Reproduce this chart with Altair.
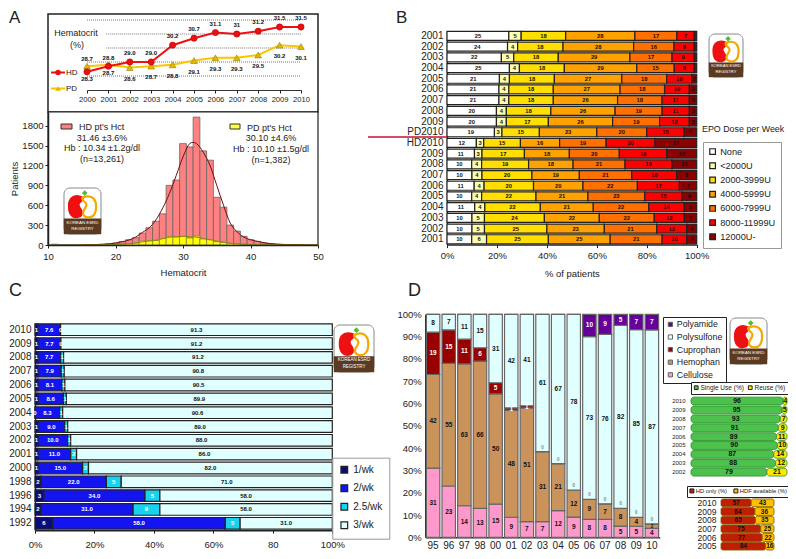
import altair as alt
import pandas as pd

FONT = "Liberation Sans"
INK = "#222222"
W, H = 780, 543

# ---------- Panel A: hematocrit trend ----------
years_a = list(range(2000, 2011))
hd_hct = [28.3, 28.7, 29.0, 29.0, 30.2, 30.7, 31.1, 31.0, 31.2, 31.5, 31.5]
pd_hct = [28.7, 28.8, 28.6, 28.7, 28.8, 29.1, 29.3, 29.3, 29.5, 30.2, 30.1]
hd_lab = ["28.3", "28.7", "29.0", "29.0", "30.2", "30.7", "31.1", "31", "31.2", "31.5", "31.5"]
pd_lab = ["28.7", "28.8", "28.6", "28.7", "28.8", "29.1", "29.3", "29.3", "29.5", "30.2", "30.1"]
grid_y = [32, 31, 30, 29, 28]
grid_from = [2000, 2000.9, 2000.9, 2000, 2000]

# ---------- Panel A: histogram ----------
hist_bins = list(range(11, 48))
hd_hist = [12, 4, 3, 3, 6, 6, 8, 12, 20, 30, 50, 80, 110, 180, 260, 360, 470, 900, 980, 1530, 1480, 1930,
           1420, 1280, 720, 570, 300, 210, 130, 80, 55, 30, 20, 12, 8, 5, 3]
pd_hist = [0, 0, 0, 0, 2, 2, 3, 6, 8, 10, 15, 20, 30, 60, 65, 70, 100, 130, 120, 130, 105, 135,
           90, 80, 50, 40, 25, 20, 12, 5, 4, 3, 2, 1, 1, 0, 0]
curve_x = [15, 17, 19, 20, 21, 22, 23, 24, 25, 26, 27, 28, 29, 30, 31, 31.5, 32, 33, 34, 35, 36, 37, 38, 39, 40,
           41, 42, 43, 44, 45, 47, 50]
curve_y = [3, 6, 15, 30, 50, 75, 120, 190, 260, 380, 560, 780, 1050, 1330, 1530, 1550, 1530, 1400, 1200, 900, 600,
           330, 200, 120, 80, 55, 35, 20, 12, 8, 3, 0]
curve_pd = [1, 2, 5, 9, 14, 20, 30, 48, 62, 72, 95, 118, 125, 128, 125, 122, 118, 98, 80, 58, 40, 27, 18, 11, 6,
            4, 3, 2, 1, 1, 0, 0]

# ---------- Panel B ----------
b_rows = ["2001", "2002", "2003", "2004", "2005", "2006", "2007", "2008", "2009", "PD2010", "HD2010",
          "2009 ", "2008 ", "2007 ", "2006 ", "2005 ", "2004 ", "2003 ", "2002 ", "2001 "]
b_none = [25, 24, 22, 25, 21, 21, 21, 20, 20, 19, 12, 11, 10, 10, 11, 10, 11, 10, 10, 10]
b_lt2k = [5, 4, 5, 4, 4, 4, 4, 4, 4, 3, 3, 3, 4, 4, 4, 4, 4, 5, 5, 6]
b_2k = [18, 18, 18, 18, 18, 18, 18, 18, 17, 15, 15, 17, 19, 20, 20, 22, 22, 24, 25, 25]
b_4k = [28, 28, 29, 29, 27, 27, 26, 26, 26, 23, 16, 18, 18, 19, 20, 21, 21, 22, 23, 25]
b_6k = [17, 16, 17, 15, 18, 18, 18, 19, 19, 20, 19, 20, 21, 21, 22, 23, 22, 22, 21, 21]
b_8k = [7, 8, 9, 8, 10, 10, 11, 11, 12, 15, 20, 19, 19, 18, 17, 15, 14, 12, 12, 10]
b_12k = [1, 1, 1, 1, 2, 3, 3, 3, 3, 5, 17, 12, 10, 8, 7, 6, 5, 5, 4, 4]
b_names = ["None", "<2000U", "2000-3999U", "4000-5999U", "6000-7999U", "8000-11999U", "12000U-"]
b_colors = ["#FFFFFF", "#FFFFB0", "#FFDE00", "#FFA200", "#FF7000", "#FF0000", "#8B0000"]

# ---------- Panel C ----------
c_rows = ["2010", "2009", "2008", "2007", "2006", "2005", "2004", "2003", "2002", "2001", "2000",
          "1998", "1996", "1994", "1992"]
c_1 = [1, 1, 1, 1, 1, 1, 0, 1, 1, 1, 1, 2, 3, 2, 6]
c_2 = [7.6, 7.7, 7.7, 7.9, 8.1, 8.6, 8.3, 9.0, 10.0, 11.0, 15.0, 22.0, 34.0, 31.0, 58.0]
c_25 = [0, 0, 1, 1, 1, 1, 1, 1, 1, 2, 2, 5, 5, 9, 5]
c_3 = [91.3, 91.2, 91.2, 90.8, 90.5, 89.9, 90.6, 89.0, 88.0, 86.0, 82.0, 71.0, 58.0, 58.0, 31.0]
c_names = ["1/wk", "2/wk", "2.5/wk", "3/wk"]
c_colors = ["#0B0B7A", "#1414F0", "#19D2F0", "#E0FFFF"]

# ---------- Panel D ----------
d_cols = ["95", "96", "97", "98", "00", "01", "02", "03", "04", "05", "06", "07", "08", "09", "10"]
d_cell = [31, 23, 14, 13, 15, 9, 7, 7, 12, 9, 8, 8, 5, 5, 4]
d_hemo = [42, 55, 63, 66, 50, 48, 51, 31, 21, 12, 9, 7, 8, 4, 2]
d_cupr = [19, 15, 11, 6, 5, 1, 1, 0, 0, 0, 0, 0, 0, 0, 0]
d_poly = [8, 7, 11, 15, 31, 42, 41, 61, 67, 78, 73, 76, 82, 85, 87]
d_amid = [0, 0, 0, 0, 0, 0, 0, 0, 0, 0, 10, 9, 5, 7, 7]
d_names = ["Polyamide", "Polysulfone", "Cuprophan", "Hemophan", "Cellulose"]
d_colors = ["#660099", "#E0FFFF", "#990000", "#C9935B", "#FF99CC"]

# ---------- Small stacked panels ----------
e_rows = ["2010", "2009", "2008", "2007", "2006", "2005", "2004", "2003", "2002"]
e_single = [96, 95, 93, 91, 89, 90, 87, 88, 79]
e_reuse = [4, 5, 7, 9, 11, 10, 14, 12, 21]
e_names = ["Single Use (%)", "Reuse (%)"]
f_rows = ["2010", "2009", "2008", "2007", "2006", "2005"]
f_hd = [57, 64, 65, 75, 77, 84]
f_hdf = [43, 36, 35, 25, 22, 16]
f_names = ["HD only (%)", "HDF available (%)"]


def long_stack(rows, names, series, fmt=None):
    out = []
    for i, r in enumerate(rows):
        total = sum(s[i] for s in series)
        acc = 0
        for j, n in enumerate(names):
            v = series[j][i]
            lab = (fmt[j] if fmt else "{:d}").format(v)
            out.append(dict(row=r, seg=n, val=v, lab=lab,
                            start=acc / total * 100,
                            end=(acc + v) / total * 100,
                            mid=(acc + v / 2) / total * 100))
            acc += v
    return pd.DataFrame(out)


def axis(orient, offset, **kw):
    base = dict(orient=orient, offset=offset, title=None, grid=False, domainColor=INK, domainWidth=1.5,
                tickColor=INK, tickSize=3, labelColor="#222222", labelFontSize=9.5,
                labelFlush=False, labelOverlap=False, labelBound=False)
    base.update(kw)
    return alt.Axis(**base)


one = pd.DataFrame({"k": [0]})


def label(text, x, y, size=9, align="center", color="#222222", weight="normal", angle=0):
    return alt.Chart(one).mark_text(text=text, fontSize=size, align=align, color=color, fontWeight=weight,
                                    baseline="middle", angle=angle).encode(x=alt.value(x - 8), y=alt.value(y - 8))


def box(x0, y0, x1, y1, fill="white", stroke=INK, sw=1.5, corner=0):
    return alt.Chart(one).mark_rect(fill=fill, stroke=stroke, strokeWidth=sw, cornerRadius=corner).encode(
        x=alt.value(x0 - 8), x2=alt.value(x1 - 8), y=alt.value(y0 - 8), y2=alt.value(y1 - 8))


RED_K = "M0.35,-0.95 C-0.35,-1.1 -0.65,-0.6 -0.62,0 C-0.62,0.7 -0.3,1.05 0.2,0.97 C0.6,0.9 0.65,0.6 0.5,0.3 C0.35,0.1 0.2,-0.1 0.3,-0.3 C0.4,-0.5 0.75,-0.6 0.65,-0.85 Z"
ORA_K = "M-0.35,-0.95 C0.35,-1.1 0.65,-0.6 0.62,0 C0.62,0.7 0.3,1.05 -0.2,0.97 C-0.6,0.9 -0.65,0.6 -0.5,0.3 C-0.35,0.1 -0.2,-0.1 -0.3,-0.3 C-0.4,-0.5 -0.75,-0.6 -0.65,-0.85 Z"


def logo(x0, y0, w, h):
    s = (h * 0.47) ** 2
    def px(fx, fy, **kw):
        return alt.Chart(one).mark_point(**kw).encode(x=alt.value(x0 + fx * w - 8), y=alt.value(y0 + fy * h - 8))
    return [
        box(x0, y0, x0 + w, y0 + h, fill="white", stroke="#888888", sw=1, corner=6),
        box(x0, y0 + 0.67 * h, x0 + w, y0 + h, fill="#5A3A22", stroke="#5A3A22", sw=0.5),
        px(0.315, 0.405, shape=RED_K, size=s, filled=True, fill="#EE1111", stroke="#EE1111", opacity=1),
        px(0.685, 0.41, shape=ORA_K, size=s, filled=False, stroke="#F5A800", strokeWidth=2.2, opacity=1),
        px(0.56, 0.11, shape="diamond", size=h * 0.7, filled=True, fill="#55BB33", opacity=1),
        label("KOREAN ESRD", x0 + w / 2, y0 + 0.755 * h, size=h / 10.5, color="white"),
        label("REGISTRY", x0 + w / 2, y0 + 0.885 * h, size=h / 10.5, color="white"),
    ]


def stacked_h(df, names, colors, rows, xr, yr, pad, leg, x_axis, y_axis, stroke=INK, sw=1.2, corner=0):
    return alt.Chart(df).mark_bar(stroke=stroke, strokeWidth=sw, cornerRadius=corner).encode(
        x=alt.X("start:Q", scale=alt.Scale(domain=[0, 100], range=xr), axis=x_axis),
        x2="end:Q",
        y=alt.Y("row:N", sort=rows, scale=alt.Scale(domain=rows, range=yr, paddingInner=pad, paddingOuter=pad / 2),
                axis=y_axis),
        color=alt.Color("seg:N", scale=alt.Scale(domain=names, range=colors), legend=leg),
    )


def hbar_text(df, rows, xr, yr, pad, size, color="#111111"):
    return alt.Chart(df).mark_text(fontSize=size, fontWeight="bold", color=color, baseline="middle").encode(
        x=alt.X("mid:Q", scale=alt.Scale(domain=[0, 100], range=xr), axis=None),
        y=alt.Y("row:N", sort=rows, scale=alt.Scale(domain=rows, range=yr, paddingInner=pad, paddingOuter=pad / 2),
                axis=None),
        text="lab:N",
    )


# ========== A top ==========
ax = alt.Scale(domain=[2000, 2010], range=[79, 293])
ay = alt.Scale(domain=[27, 32], range=[82, 12])
df_a = pd.DataFrame({"year": years_a, "hd": hd_hct, "pd": pd_hct, "hl": hd_lab, "pl": pd_lab})
df_g = pd.DataFrame({"y": grid_y, "x0": grid_from, "x1": [2010] * 5})
base_a = alt.Chart(df_a)
a_x = alt.X("year:Q", scale=ax, axis=None)


def a_text(field, lab, subset, dy):
    return alt.Chart(df_a.iloc[subset]).mark_text(fontSize=6, fontWeight="bold", color="#111111", dy=dy).encode(
        x=a_x, y=alt.Y(f"{field}:Q", scale=ay, axis=None), text=f"{lab}:N")


panel_a1 = [
    box(48, 14, 318, 112),
    alt.Chart(df_g).mark_rule(color="#555555", strokeWidth=0.8, strokeDash=[1, 1]).encode(
        x=alt.X("x0:Q", scale=ax, axis=None),
        x2="x1:Q", y=alt.Y("y:Q", scale=ay, axis=None)),
    base_a.mark_line(color="#FFC400", strokeWidth=2).encode(x=a_x, y=alt.Y("pd:Q", scale=ay, axis=None)),
    base_a.mark_point(shape="triangle-up", filled=True, fill="#E5B800", stroke="#777700", strokeWidth=0.5,
                      size=45, opacity=1).encode(x=a_x, y=alt.Y("pd:Q", scale=ay, axis=None)),
    base_a.mark_line(color="#F01010", strokeWidth=2).encode(x=a_x, y=alt.Y("hd:Q", scale=ay, axis=None)),
    base_a.mark_point(shape="circle", filled=True, fill="#E81010", stroke="#BB0000", strokeWidth=0.5,
                      size=40, opacity=1).encode(
        x=alt.X("year:Q", scale=ax, axis=axis("bottom", 82 - H, values=years_a, format="d", labelFontSize=7.6,
                                               tickSize=3, domainWidth=1, labelPadding=2, domainColor="#333333",
                                               zindex=1)),
        y=alt.Y("hd:Q", scale=ay, axis=None)),
    a_text("hd", "hl", list(range(0, 2)), 7),
    a_text("hd", "hl", list(range(2, 11)), -9),
    a_text("pd", "pl", list(range(0, 2)), -7),
    a_text("pd", "pl", list(range(2, 11)), 11),
]

a1_extra = [
    label("Hematocrit", 76, 33), label("(%)", 77, 45),
    alt.Chart(one).mark_rule(color="#F01010", strokeWidth=2).encode(
        x=alt.value(43), x2=alt.value(57), y=alt.value(64.5)),
    alt.Chart(one).mark_point(shape="circle", filled=True, fill="#E81010", size=30, opacity=1).encode(
        x=alt.value(50), y=alt.value(64.5)),
    label("HD", 66, 73, size=8, align="left"),
    alt.Chart(one).mark_rule(color="#FFC400", strokeWidth=2).encode(
        x=alt.value(43), x2=alt.value(57), y=alt.value(80.5)),
    alt.Chart(one).mark_point(shape="triangle-up", filled=True, fill="#E5B800", size=30, opacity=1).encode(
        x=alt.value(50), y=alt.value(80.5)),
    label("PD", 66, 89, size=8, align="left"),
]

# ========== A histogram ==========
hx = alt.Scale(domain=[10, 50], range=[40, 310])
hy = alt.Scale(domain=[0, 2007], range=[237, 104])
df_h = pd.DataFrame({"b0": [b - 0.5 for b in hist_bins], "b1": [b + 0.5 for b in hist_bins],
                     "hd": hd_hist, "pd": pd_hist, "z": [0] * len(hist_bins)})
df_c = pd.DataFrame({"x": curve_x, "y": curve_y, "p": curve_pd})
panel_a2 = [
    box(48, 112, 318, 245, fill="white", sw=1.2),
    alt.Chart(df_h).mark_bar(fill="#FF8080", stroke="#666666", strokeWidth=0.8).encode(
        x=alt.X("b0:Q", scale=hx, axis=axis("bottom", 237 - H, values=[10, 20, 30, 40, 50], labelPadding=3,
                                             title="Hematocrit", titleFontSize=9.5, titleFontWeight="normal",
                                             titlePadding=7, titleColor="#222222", zindex=1)),
        x2="b1:Q",
        y=alt.Y("hd:Q", scale=hy, axis=axis("left", -40, values=[0, 300, 600, 900, 1200, 1500, 1800], format="d",
                                            labelPadding=2, title="Patients", titleFontSize=9.5,
                                            titleFontWeight="normal", titlePadding=2, titleColor="#222222",
                                            zindex=1)),
        y2="z:Q"),
    alt.Chart(df_h).mark_bar(fill="#FFFF00", stroke="#777744", strokeWidth=0.6).encode(
        x=alt.X("b0:Q", scale=hx, axis=None), x2="b1:Q", y=alt.Y("pd:Q", scale=hy, axis=None), y2="z:Q"),
    alt.Chart(df_c).mark_line(color="#7A0A0A", strokeWidth=1, interpolate="monotone").encode(
        x=alt.X("x:Q", scale=hx, axis=None), y=alt.Y("y:Q", scale=hy, axis=None)),
    alt.Chart(df_c).mark_line(color="#8A8A10", strokeWidth=1, interpolate="monotone").encode(
        x=alt.X("x:Q", scale=hx, axis=None), y=alt.Y("p:Q", scale=hy, axis=None)),
]
a2_extra = [
    box(61, 124, 72, 129, fill="#FF8080", stroke="#333333", sw=1),
    label("HD pt's Hct", 79, 126.5, align="left"),
    label("31.46 \u00b13.6%", 102, 137.5),
    label("Hb : 10.34 \u00b11.2g/dl", 102, 148),
    label("(n=13,261)", 102, 159),
    box(230, 124, 240, 129, fill="#FFFF40", stroke="#333333", sw=1),
    label("PD pt's Hct", 247, 127.5, align="left"),
    label("30.10 \u00b14.6%", 271, 138),
    label("Hb : 10.10 \u00b11.5g/dl", 271, 148.5),
    label("(n=1,382)", 271, 159.5),
]

# ========== B ==========
df_b = long_stack(b_rows, b_names, [b_none, b_lt2k, b_2k, b_4k, b_6k, b_8k, b_12k])
b_xr, b_yr, b_pad = [439, 688.7], [22.6, 236.6], 0.16
leg_b = alt.Legend(orient="none", legendX=695, legendY=134, title=None, fillColor="white", strokeColor="#999999",
                   padding=5, labelFontSize=9.2, labelColor="#222222", symbolType="square", symbolSize=32,
                   symbolStrokeColor="#222222", symbolStrokeWidth=1.2, rowPadding=3.2, labelOffset=3)
panel_b = [
    stacked_h(df_b, b_names, b_colors, b_rows, b_xr, b_yr, b_pad, leg_b,
              axis("bottom", 236.6 - H, values=[0, 20, 40, 60, 80, 100], labelExpr="datum.value + '%'",
                   labelPadding=3, title="% of patients", titleFontSize=9.5, titleFontWeight="normal",
                   titlePadding=8, titleColor="#222222"),
              axis("left", -439, labelFontSize=10, tickSize=0, labelPadding=4)),
    hbar_text(df_b[df_b.val > 1], b_rows, b_xr, b_yr, b_pad, 5.8),
]
b_extra = [
    alt.Chart(one).mark_rule(color="#C8102E", strokeWidth=1.5).encode(
        x=alt.value(360), x2=alt.value(439), y=alt.value(129)),
    label("EPO Dose per Week", 702, 129, size=8.9, align="left"),
]

# ========== C ==========
df_cc = long_stack(c_rows, c_names, [c_1, c_2, c_25, c_3], fmt=["{:d}", "{:.1f}", "{:d}", "{:.1f}"])
c_xr, c_yr, c_pad = [27, 324.3], [314.8, 522.2], 0.16
leg_c = alt.Legend(orient="none", legendX=324.3, legendY=449.7, title=None, fillColor="white", strokeColor="#999999",
                   padding=7, labelFontSize=10, labelColor="#222222", symbolType="square", symbolSize=45,
                   symbolStrokeColor="#222222", symbolStrokeWidth=1.2, rowPadding=6.5, labelOffset=4)
panel_c = [
    stacked_h(df_cc, c_names, c_colors, c_rows, c_xr, c_yr, c_pad, leg_c,
              axis("bottom", 522.2 - H, values=[0, 20, 40, 60, 80, 100],
                   labelExpr="datum.value == 80 ? '80' : datum.value + '%'", labelPadding=6),
              axis("left", -27, labelFontSize=10, tickSize=0, labelPadding=4)),
    hbar_text(df_cc[df_cc.seg.isin(["1/wk", "2/wk", "2.5/wk"])], c_rows, c_xr, c_yr, c_pad, 6, color="white"),
    hbar_text(df_cc[df_cc.seg == "3/wk"], c_rows, c_xr, c_yr, c_pad, 6, color="#111111"),
]

# ========== D ==========
df_d = long_stack(d_cols, ["Cellulose", "Hemophan", "Cuprophan", "Polysulfone", "Polyamide"],
                  [d_cell, d_hemo, d_cupr, d_poly, d_amid])
dx = alt.Scale(domain=d_cols, range=[417.3, 651.7], paddingInner=0.14, paddingOuter=0.07)
dy = alt.Scale(domain=[0, 100], range=[529.3, 306.3])
leg_d = alt.Legend(orient="none", legendX=655, legendY=309, title=None, fillColor="white", strokeColor="#222222",
                   padding=3, labelFontSize=8.8, labelColor="#222222", symbolType="square",
                   symbolSize=18, symbolStrokeColor="#666666", symbolStrokeWidth=1, rowPadding=2.6, labelOffset=2)


def d_text(data, color, size=6.5, dy_px=0):
    return alt.Chart(data).mark_text(fontSize=size, fontWeight="bold", color=color, baseline="middle",
                                     dy=dy_px).encode(
        x=alt.X("row:N", sort=d_cols, scale=dx, axis=None),
        y=alt.Y("mid:Q", scale=dy, axis=None), text="lab:N")


d_dark = df_d[df_d.seg.isin(["Cellulose", "Hemophan", "Polysulfone"]) & ~((df_d.row == "10") & (df_d.seg == "Hemophan"))]
d_small = df_d[(df_d.row == "10") & (df_d.seg == "Hemophan")]
d_light = df_d[((df_d.seg == "Cuprophan") & (df_d.val > 0)) | ((df_d.seg == "Polyamide") & (df_d.val > 0))]
d_zero = df_d[(df_d.seg == "Cuprophan") & (df_d.val == 0)]
panel_d = [
    alt.Chart(df_d).mark_bar(stroke="#666666", strokeWidth=1.2).encode(
        x=alt.X("row:N", sort=d_cols, scale=dx,
                axis=axis("bottom", 529.3 - H, labelAngle=0, tickSize=0, labelFontSize=10, labelPadding=3)),
        y=alt.Y("start:Q", scale=dy,
                axis=axis("left", -417.3, values=list(range(0, 101, 10)), labelExpr="datum.value + '%'",
                          tickSize=0, labelPadding=4)),
        y2="end:Q",
        color=alt.Color("seg:N", scale=alt.Scale(domain=d_names, range=d_colors), legend=leg_d)),
    d_text(d_dark, "#111111"),
    d_text(d_small, "#111111", size=4.5, dy_px=1),
    d_text(d_light, "white"),
    d_text(d_zero, "#888888", size=4.5, dy_px=-4),
]

# ========== E, F ==========
df_e = long_stack(e_rows, e_names, [e_single, e_reuse])
e_xr, e_yr, e_pad = [683, 779], [388.6, 468.6], 0.12
leg_e = alt.Legend(orient="none", legendX=683, legendY=374, direction="horizontal", columns=2, title=None,
                   fillColor="white", strokeColor="#222222", padding=2, labelFontSize=6.5,
                   labelColor="#222222", symbolType="square", symbolSize=14, symbolStrokeColor="#222222",
                   symbolStrokeWidth=1, columnPadding=2, labelOffset=1)
panel_e = [
    stacked_h(df_e, e_names, ["#4CC24C", "#FFE800"], e_rows, e_xr, e_yr, e_pad, leg_e, None,
              axis("left", -683, labelFontSize=6, tickSize=0, labelPadding=6, domain=False),
              stroke="#2A8A2A", sw=0.8, corner=3),
    hbar_text(df_e, e_rows, e_xr, e_yr, e_pad, 7),
]
df_f = long_stack(f_rows, f_names, [f_hd, f_hdf])
f_xr, f_yr, f_pad = [713, 766], [490.5, 542.5], 0.1
leg_f = alt.Legend(orient="none", legendX=679, legendY=478, direction="horizontal", columns=2, title=None,
                   fillColor="white", strokeColor="#222222", padding=2, labelFontSize=5.8,
                   labelColor="#222222", symbolType="square", symbolSize=16, symbolStrokeColor="#222222",
                   symbolStrokeWidth=1, columnPadding=3, labelOffset=1)
panel_f = [
    stacked_h(df_f, f_names, ["#C01E00", "#FFC000"], f_rows, f_xr, f_yr, f_pad, leg_f, None,
              axis("left", -713, labelFontSize=8.5, tickSize=0, labelPadding=5, domain=False),
              stroke="#7A5A00", sw=0.8, corner=2),
    hbar_text(df_f, f_rows, f_xr, f_yr, f_pad, 6.5),
]

letters = [
    label("A", 9, 18, size=17, align="left"),
    label("B", 396, 18, size=17, align="left"),
    label("C", 9, 291, size=18, align="left"),
    label("D", 408, 291, size=18, align="left"),
]

chart = alt.layer(
    *panel_a1, *panel_a2, *panel_b, *panel_c, *panel_d, *panel_e, *panel_f,
    *a1_extra, *a2_extra, *b_extra, *letters,
    *logo(64, 188, 37, 46), *logo(709, 34, 34, 43), *logo(334, 325, 40, 47), *logo(730, 318, 37, 46),
).resolve_scale(x="independent", y="independent", color="independent").resolve_axis(
    x="independent", y="independent").resolve_legend(color="independent").properties(
    width=W, height=H, padding=0,
    autosize=alt.AutoSizeParams(type="none", contains="padding"),
    background="white",
).configure(font=FONT).configure_view(stroke=None)

chart.save("out.html", embed_options={"renderer": "svg", "actions": False})
